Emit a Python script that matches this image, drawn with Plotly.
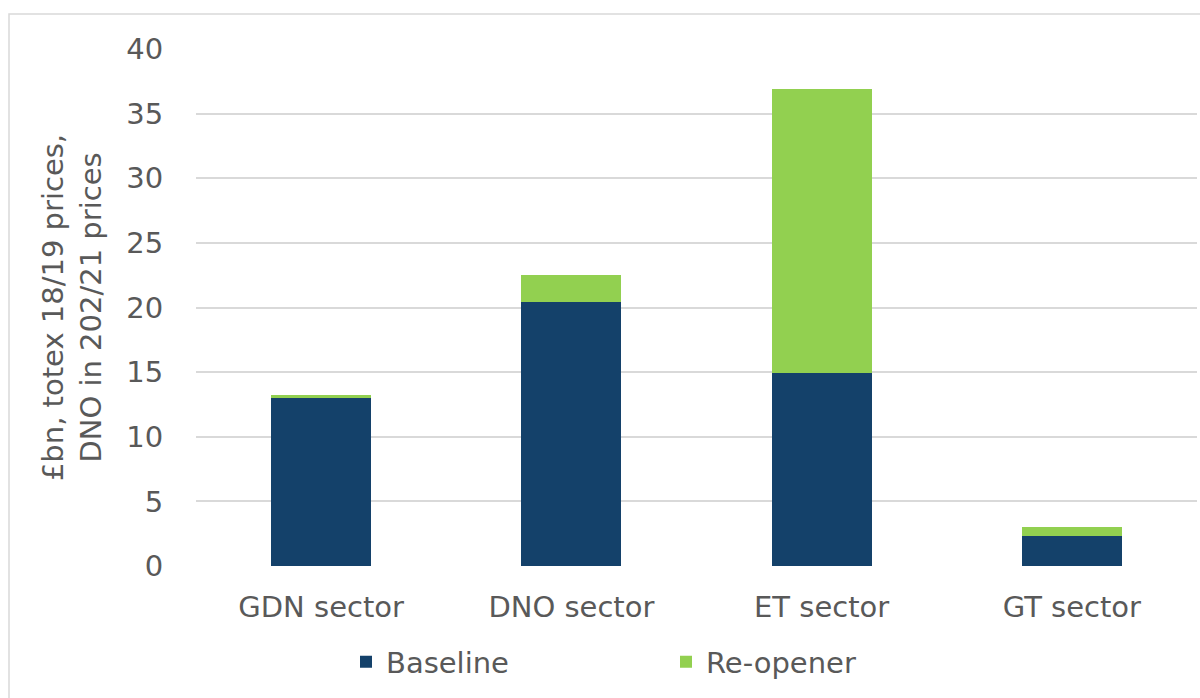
import plotly.graph_objects as go

categories = ["GDN sector", "DNO sector", "ET sector", "GT sector"]
baseline = [13.0, 20.4, 14.9, 2.35]
reopener = [0.25, 2.1, 22.0, 0.7]
y_ticks = [0, 5, 10, 15, 20, 25, 30, 35, 40]

FONT = "DejaVu Sans"
TXT = "#595959"
FS = 29

fig = go.Figure()
fig.add_trace(go.Bar(x=categories, y=baseline, name="Baseline",
                     marker=dict(color="#14416A", line=dict(width=0))))
fig.add_trace(go.Bar(x=categories, y=reopener, name="Re-opener",
                     marker=dict(color="#92D050", line=dict(width=0))))

L, R, T, B = 196, 3, 49, 132
W, H = 1200, 698
pw, ph = W - L - R, H - T - B

fig.update_layout(
    width=W, height=H,
    barmode="stack", bargap=0.6,
    margin=dict(l=L, r=R, t=T, b=B),
    paper_bgcolor="white", plot_bgcolor="white",
    font=dict(family=FONT, size=FS, color=TXT),
    xaxis=dict(showgrid=False, showline=False, zeroline=False,
               ticks="outside", ticklen=15, tickcolor="rgba(0,0,0,0)",
               tickfont=dict(size=FS, color=TXT)),
    yaxis=dict(range=[0, 40], tickvals=y_ticks, showgrid=True,
               gridcolor="#D9D9D9", gridwidth=1.5, zeroline=False, showline=False,
               ticks="outside", ticklen=26, tickcolor="rgba(0,0,0,0)",
               tickfont=dict(size=FS, color=TXT),
               title=dict(text="£bn, totex 18/19 prices,<br>DNO in 202/21 prices",
                          font=dict(size=FS, color=TXT), standoff=16)),
    legend=dict(orientation="h", traceorder="normal",
                x=(346 - L) / pw, xanchor="left",
                y=(H - B - 662) / ph, yanchor="middle",
                entrywidth=275, font=dict(size=FS, color=TXT),
                bgcolor="rgba(0,0,0,0)"),
    shapes=[dict(type="rect", xref="paper", yref="paper",
                 x0=(9 - L) / pw, x1=(1210 - L) / pw,
                 y0=(H - B - 710) / ph, y1=1 + (T - 14) / ph,
                 line=dict(color="#D9D9D9", width=1.5), layer="below")],
)

fig.write_html("out.html")
